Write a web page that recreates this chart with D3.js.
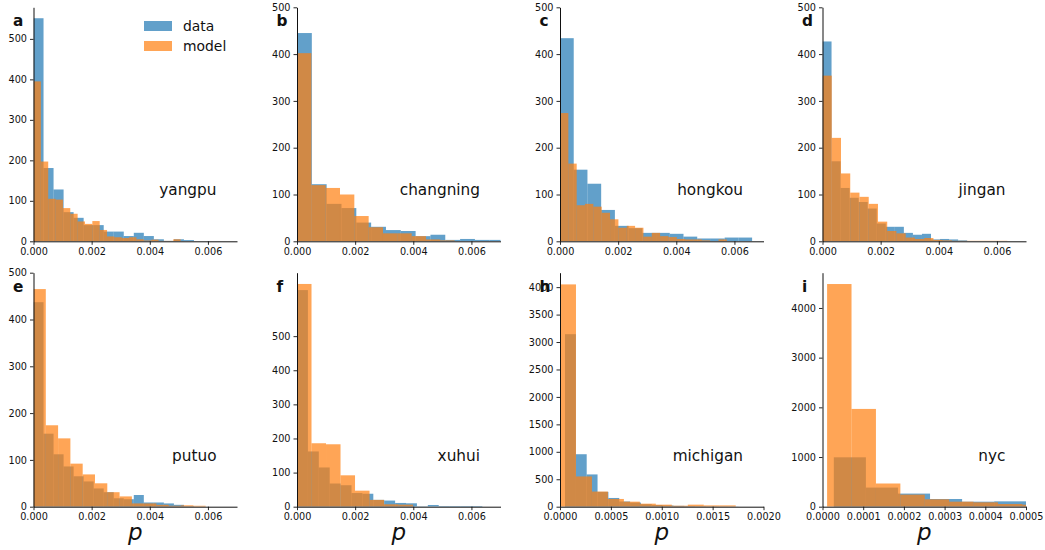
<!DOCTYPE html>
<html><head><meta charset="utf-8">
<script src="https://cdn.jsdelivr.net/npm/d3@7"></script>
<style>
body{margin:0;background:#fff}
svg{display:block}
text{font-family:"DejaVu Sans",sans-serif}
</style>
</head><body>
<svg id="chart" width="1045" height="550"></svg>
<script>
// ---- panel meta ----
const panelLetters = ["a","b","c","d","e","f","h","i"];
const regionNames = ["yangpu","changning","hongkou","jingan","putuo","xuhui","michigan","nyc"];
const seriesNames = ["data","model"];
const xMax = [0.007,0.007,0.007,0.007,0.007,0.007,0.002,0.0005];
const yMax = [578,500,500,500,500,686,4263,4710];
const xTicksA = [0,0.002,0.004,0.006];
const xTicksH = [0,0.0005,0.001,0.0015,0.002];
const xTicksI = [0,0.0001,0.0002,0.0003,0.0004,0.0005];
const yTicks100 = [0,100,200,300,400,500];
const yTicksH = [0,500,1000,1500,2000,2500,3000,3500,4000];
const yTicksI = [0,1000,2000,3000,4000];

// ---- histogram bins: [start, width] of p for each panel ----
const dataBinStart  = [0,0,0,0,0,0,0.0000492,0.0000278];
const dataBinWidth  = [0.000345,0.00051,0.000472,0.000311,0.000345,0.000375,0.0001066,0.0000788];
const modelBinStart = [0,0,0,0,0,0,0,0.0000113];
const modelBinWidth = [0.000253,0.000493,0.000287,0.000318,0.000423,0.000499,0.000157,0.00006];

// ---- counts ----
const yangpuData    = [551,181,128,72,58,40,40,24,24,13,21,13,5,1,5,3];
const yangpuModel   = [395,197,105,103,82,68,49,43,50,28,12,10,8,10,5,2,4,1,1,5];
const changningData = [445,122,80,71,40,31,24,22,11,14,3,5,3,3];
const changningModel= [402,120,114,100,54,30,17,17,11,4,2];
const hongkouData   = [434,153,123,67,33,28,18,18,16,10,6,6,8,8];
const hongkouModel  = [274,166,77,80,74,61,47,29,33,29,10,18,11,9,5,4,4,2,0,4];
const jinganData    = [427,171,114,93,84,70,38,31,31,18,14,16,4,5,4,2];
const jinganModel   = [354,221,145,104,95,80,42,22,17,8,5,7,3,2,1,1,1,1,1,1];
const putuoData     = [437,156,112,86,65,54,39,31,18,16,25,9,9,7,4,1];
const putuoModel    = [465,174,146,92,69,50,31,22,7,7,4,2,3,2];
const xuhuiData     = [635,162,115,68,63,40,38,20,18,11,10,1,5,2,2,2,2];
const xuhuiModel    = [653,186,183,92,47,20,7,6];
const michiganData  = [3143,956,588,270,159,95,75,45,30,22,15,10,8,5,3,2];
const michiganModel = [4050,551,276,141,92,55,37,18,37,24,24];
const nycData       = [994,385,264,155,101,108];
const nycModel      = [4482,1968,467,243,149,101,88,54,40];

const dataSeries  = [yangpuData,changningData,hongkouData,jinganData,putuoData,xuhuiData,michiganData,nycData];
const modelSeries = [yangpuModel,changningModel,hongkouModel,jinganModel,putuoModel,xuhuiModel,michiganModel,nycModel];
const xTicksList = [xTicksA,xTicksA,xTicksA,xTicksA,xTicksA,xTicksA,xTicksH,xTicksI];
const yTicksList = [yTicks100,yTicks100,yTicks100,yTicks100,yTicks100,yTicks100,yTicksH,yTicksI];
const xFormats = [".3f",".3f",".3f",".3f",".3f",".3f",".4f",".4f"];

// ---- layout ----
const colLeft = [33.5, 297, 560, 822.5];
const rowTop = [7.3, 272.7];
const W = 203.5, H = 234;
const colors = ["#1f77b4", "#ff7f0e"];
const alpha = 0.7;

const svg = d3.select("#chart");
const defs = svg.append("defs");

panelLetters.forEach((letter, i) => {
  const col = i % 4, row = Math.floor(i / 4);
  const g = svg.append("g").attr("transform", `translate(${colLeft[col]},${rowTop[row]})`);
  const x = d3.scaleLinear().domain([0, xMax[i]]).range([0, W]);
  const y = d3.scaleLinear().domain([0, yMax[i]]).range([H, 0]);

  defs.append("clipPath").attr("id", "clip" + i)
    .append("rect").attr("x", 0).attr("y", 0).attr("width", W).attr("height", H);
  const plot = g.append("g").attr("clip-path", `url(#clip${i})`);

  const seriesDefs = [
    {counts: dataSeries[i], start: dataBinStart[i], width: dataBinWidth[i], color: colors[0]},
    {counts: modelSeries[i], start: modelBinStart[i], width: modelBinWidth[i], color: colors[1]}
  ];
  seriesDefs.forEach(s => {
    const bins = s.counts.map((c, k) => ({x0: s.start + k * s.width, x1: s.start + (k + 1) * s.width, c}));
    plot.append("g").selectAll("rect").data(bins).join("rect")
      .attr("x", d => x(d.x0))
      .attr("width", d => Math.max(0, x(d.x1) - x(d.x0)))
      .attr("y", d => y(d.c))
      .attr("height", d => H - y(d.c))
      .attr("fill", s.color)
      .attr("fill-opacity", alpha);
  });

  const xa = g.append("g").attr("transform", `translate(0,${H})`)
    .call(d3.axisBottom(x).tickValues(xTicksList[i]).tickFormat(d3.format(xFormats[i]))
      .tickSize(3.5).tickSizeOuter(0).tickPadding(3));
  const ya = g.append("g")
    .call(d3.axisLeft(y).tickValues(yTicksList[i]).tickFormat(d3.format("d"))
      .tickSize(3.5).tickSizeOuter(0).tickPadding(3));
  [xa, ya].forEach(a => {
    a.selectAll("text").attr("font-size", "9.7px").attr("fill", "#111").attr("font-family", "DejaVu Sans");
    a.selectAll("line").attr("stroke", "#111").attr("stroke-width", 0.9);
    a.select(".domain").attr("stroke", "#111").attr("stroke-width", 1);
  });

  // region name
  g.append("text").attr("x", 183).attr("y", H - 46)
    .attr("text-anchor", "end").attr("font-size", "15.3px").attr("fill", "#111")
    .text(regionNames[i]);
  // panel letter
  g.append("text").attr("x", -20.5).attr("y", 19.2)
    .attr("font-size", "15.3px").attr("font-weight", "bold").attr("fill", "#111")
    .text(letter);
  // x label
  if (row === 1) {
    g.append("text").attr("x", W / 2).attr("y", 540 - rowTop[row])
      .attr("text-anchor", "middle").attr("font-size", "23px").attr("font-style", "italic")
      .attr("fill", "#111").text("p");
  }

  // legend in first panel
  if (i === 0) {
    const lg = g.append("g").attr("transform", "translate(110.5,13.7)");
    seriesNames.forEach((nm, k) => {
      lg.append("rect").attr("x", 0).attr("y", k * 20).attr("width", 28).attr("height", 10)
        .attr("fill", colors[k]).attr("fill-opacity", alpha);
      lg.append("text").attr("x", 39).attr("y", k * 20 + 10).attr("font-size", "13.9px")
        .attr("fill", "#111").text(nm);
    });
  }
});
</script>
</body></html>
